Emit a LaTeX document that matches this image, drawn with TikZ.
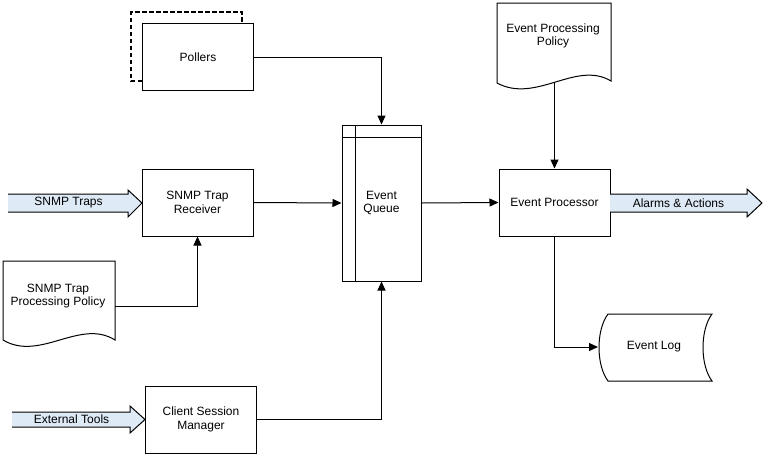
\documentclass[tikz,border=0pt]{standalone}
\usepackage{fontspec}
\setmainfont{Liberation Sans}
\usetikzlibrary{arrows.meta}
\definecolor{arrowfill}{RGB}{222,234,246}

\begin{document}
\begin{tikzpicture}[x=1pt, y=-1pt, line width=1pt,
    txt/.style={align=center, font=\fontsize{12}{13.5}\selectfont, inner sep=0pt}, % all texts
    box/.style={txt, draw, rectangle, minimum width=111pt, minimum height=67pt},
    link/.style={-{Triangle[length=9pt, width=8pt]}},
    fatarrow/.style={fill=arrowfill, draw}
    ]
\useasboundingbox (0,0) rectangle (764,456);

% pollers with dashed shadow
\draw[dash pattern=on 4.5pt off 2.5pt, line width=1.8pt] (142,81) -- (131,81) -- (131,12) -- (242,12) -- (242,24);
\node[box, fill=white] (poll) at (198,57) {Pollers};

% boxes
\node[box] (recv) at (197.5,202.5) {SNMP Trap\\Receiver};
\node[box] (csm) at (201,419.5) {Client Session\\Manager};
\node[box] (proc) at (554.5,202.5) {Event Processor};

% event queue
\node[box, minimum width=79pt, minimum height=156pt] (queue) at (381.5,203) {Event\\Queue};
\draw ([xshift=14pt]queue.north west) -- ([xshift=14pt]queue.south west);
\draw ([yshift=-13pt]queue.north west) -- ([yshift=-13pt]queue.north east);

% documents
\draw (3,261) -- (115,261) -- (115,340) .. controls (80,318) and (40,362) .. (3,340) -- cycle;
\node[txt] (snmppol) at (58,296) {SNMP Trap\\Processing Policy};
\coordinate (snmppolE) at (115,306);

\draw (497,3) -- (611,3) -- (611,81) .. controls (576,60) and (536,104) .. (497,83) -- cycle;
\node[txt] (evpol) at (553,36) {Event Processing\\Policy};
\coordinate (evpolS) at (554.5,82);

% event log
\draw (608,314) -- (712,314) .. controls (700,330) and (700,365) .. (712,381)
    -- (608,381) .. controls (596,365) and (596,330) .. (608,314) -- cycle;
\node[txt] (log) at (654,347) {Event Log};
\coordinate (logW) at (598,347);

% fat arrows
\path[fatarrow] (8,194) -- (128,194) -- (128,190) -- (142,203) -- (128,217) -- (128,212) -- (8,212);
\node[txt] (traps) at (68.5,203) {SNMP Traps};
\path[fatarrow] (12,412) -- (130,412) -- (130,406) -- (145,419.5) -- (130,433) -- (130,427) -- (12,427);
\node[txt] (ext) at (71.5,419.5) {External Tools};
\path[fatarrow] (610,194) -- (747,194) -- (747,189) -- (762,203) -- (747,217) -- (747,212) -- (610,212);
\node[txt] (alarms) at (678.5,203) {Alarms \& Actions};

% connectors
\draw[link] (poll.east) -| (queue.north);
\draw[link] (recv.east) -- (queue.west);
\draw[link] (snmppolE) -| (recv.south);
\draw[link] (csm.east) -| (queue.south);
\draw[link] (queue.east) -- (proc.west);
\draw[link] (evpolS) -- (proc.north);
\draw[link] (proc.south) |- (logW);
\end{tikzpicture}
\end{document}
